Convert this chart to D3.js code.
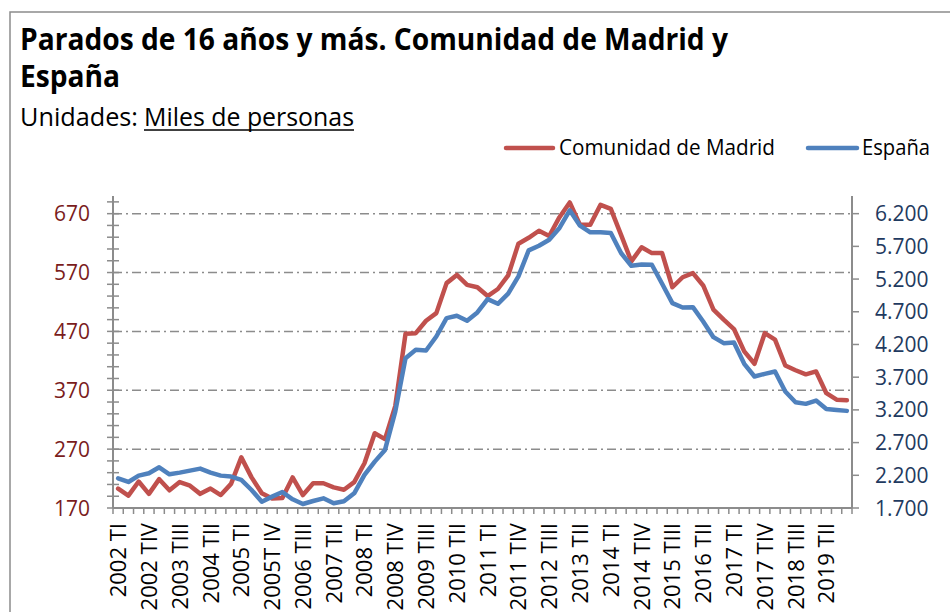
<!DOCTYPE html>
<html>
<head>
<meta charset="utf-8">
<script src="https://cdn.jsdelivr.net/npm/d3@7"></script>
<style>
  body { margin: 0; background: #fff; }
  svg { display: block; font-family: "Open Sans", sans-serif; }
</style>
</head>
<body>
<div id="chart"></div>
<script>
var width = 950;
var height = 612;

// trimestres 2002 TI .. 2019 TIV
const categories = [
    '2002 TI', '2002 TII', '2002 TIII', '2002 TIV',
    '2003 TI', '2003 TII', '2003 TIII', '2003 TIV',
    '2004 TI', '2004 TII', '2004 TIII', '2004 TIV',
    '2005 TI', '2005 TII', '2005 TIII', '2005T IV',
    '2006 TI', '2006 TII', '2006 TIII', '2006 TIV',
    '2007 TI', '2007 TII', '2007 TIII', '2007 TIV',
    '2008 TI', '2008 TII', '2008 TIII', '2008 TIV',
    '2009 TI', '2009 TII', '2009 TIII', '2009 TIV',
    '2010 TI', '2010 TII', '2010 TIII', '2010 TIV',
    '2011 TI', '2011 TII', '2011 TIII', '2011 TIV',
    '2012 TI', '2012 TII', '2012 TIII', '2012 TIV',
    '2013 TI', '2013 TII', '2013 TIII', '2013 TIV',
    '2014 TI', '2014 TII', '2014 TIII', '2014 TIV',
    '2015 TI', '2015 TII', '2015 TIII', '2015 TIV',
    '2016 TI', '2016 TII', '2016 TIII', '2016 TIV',
    '2017 TI', '2017 TII', '2017 TIII', '2017 TIV',
    '2018 TI', '2018 TII', '2018 TIII', '2018 TIV',
    '2019 TI', '2019 TII', '2019 TIII', '2019 TIV'
];

// Comunidad de Madrid (eje izquierdo, miles)
const madrid = [
    203, 191, 215, 194, 219, 200, 214, 208, 194, 203, 192, 211,
    256, 222, 195, 186, 187, 222, 192, 212, 212, 205, 201, 214,
    246, 297, 287, 343, 466, 467, 488, 501, 552, 566, 549, 545,
    530, 542, 565, 619, 629, 641, 632, 664, 689, 651, 651, 685,
    678, 634, 589, 613, 603, 603, 545, 562, 569, 548, 507, 490,
    474, 436, 415, 467, 456, 412, 404, 397, 402, 365, 354, 353
];

// España (eje derecho, miles)
const espana = [
    2154, 2098, 2195, 2231, 2322, 2215, 2241, 2271, 2302, 2241, 2195, 2180,
    2129, 1975, 1797, 1874, 1945, 1833, 1761, 1807, 1848, 1772, 1802, 1925,
    2205, 2409, 2588, 3174, 3991, 4118, 4108, 4322, 4603, 4639, 4562, 4690,
    4894, 4822, 4976, 5241, 5639, 5710, 5802, 5981, 6251, 6016, 5914, 5914,
    5904, 5598, 5404, 5424, 5419, 5129, 4833, 4766, 4771, 4552, 4312, 4220,
    4231, 3904, 3710, 3751, 3787, 3481, 3317, 3292, 3343, 3215, 3200, 3185
];

const leftTicks = [170, 270, 370, 470, 570, 670];
const rightTicks = [1700, 2200, 2700, 3200, 3700, 4200, 4700, 5200, 5700, 6200];
const seriesNames = ['Comunidad de Madrid', 'España'];

const red = '#C0504D';
const blue = '#4F81BD';
const grey = '#8C8C8C';

const plot = { left: 113, right: 852, top: 196, bottom: 508 };

const svg = d3.select('#chart')
    .append('svg')
    .attr('width', width)
    .attr('height', height);

// marco exterior
svg.append('rect')
    .attr('x', 10).attr('y', 12)
    .attr('width', 960).attr('height', 640)
    .attr('fill', 'none')
    .attr('stroke', grey)
    .attr('stroke-width', 1.5);

// ajusta el ancho del texto al de la referencia
function fit(sel, w) {
    sel.attr('textLength', w).attr('lengthAdjust', 'spacingAndGlyphs');
}

const t1 = svg.append('text')
    .attr('x', 20).attr('y', 50)
    .attr('font-size', 31).attr('font-weight', 'bold')
    .text('Parados de 16 años y más. Comunidad de Madrid y');
const k = 708 / t1.node().getComputedTextLength();
fit(t1, 708);
const t2 = svg.append('text')
    .attr('x', 20).attr('y', 87)
    .attr('font-size', 31).attr('font-weight', 'bold')
    .text('España');
fit(t2, t2.node().getComputedTextLength() * k);

const s1 = svg.append('text')
    .attr('x', 20).attr('y', 126)
    .attr('font-size', 25)
    .text('Unidades:');
fit(s1, 118);
const s2 = svg.append('text')
    .attr('x', 144).attr('y', 126)
    .attr('font-size', 25)
    .text('Miles de personas');
fit(s2, 210);
svg.append('line')
    .attr('x1', 144).attr('x2', 354)
    .attr('y1', 130).attr('y2', 130)
    .attr('stroke', '#000').attr('stroke-width', 1.5);

// escalas
const x = d3.scaleBand()
    .domain(categories)
    .range([plot.left, plot.right]);
const cx = d => x(d) + x.bandwidth() / 2;

const yL = d3.scaleLinear().domain([170, 700]).range([plot.bottom, plot.top]);
const yR = d3.scaleLinear().domain([1700, 6470]).range([plot.bottom, plot.top]);

// lineas de cuadricula
svg.append('g')
    .selectAll('line')
    .data(leftTicks.slice(1))
    .enter()
    .append('line')
    .attr('x1', plot.left).attr('x2', plot.right)
    .attr('y1', d => yL(d)).attr('y2', d => yL(d))
    .attr('stroke', grey)
    .attr('stroke-width', 1.5)
    .attr('stroke-dasharray', '9,4,2,4');

// eje izquierdo
const gL = svg.append('g');
gL.append('line')
    .attr('x1', plot.left).attr('x2', plot.left)
    .attr('y1', plot.top).attr('y2', plot.bottom)
    .attr('stroke', grey).attr('stroke-width', 2);
gL.selectAll('.minor')
    .data(d3.range(170, 701, 20))
    .enter()
    .append('line')
    .attr('x1', plot.left - 6).attr('x2', plot.left + 6)
    .attr('y1', d => yL(d)).attr('y2', d => yL(d))
    .attr('stroke', grey).attr('stroke-width', 1.5);
gL.selectAll('text')
    .data(leftTicks)
    .enter()
    .append('text')
    .attr('x', 90)
    .attr('y', d => yL(d))
    .attr('dy', '0.36em')
    .attr('text-anchor', 'end')
    .attr('font-size', 21)
    .attr('fill', '#7A1C1C')
    .text(d => d);

// eje derecho
const fmt = d3.formatLocale({ decimal: ',', thousands: '.', grouping: [3], currency: ['', ' €'] }).format(',');
const gR = svg.append('g');
gR.append('line')
    .attr('x1', plot.right).attr('x2', plot.right)
    .attr('y1', plot.top).attr('y2', plot.bottom)
    .attr('stroke', grey).attr('stroke-width', 2);
gR.selectAll('.tick')
    .data(rightTicks)
    .enter()
    .append('line')
    .attr('x1', plot.right).attr('x2', plot.right + 7)
    .attr('y1', d => yR(d)).attr('y2', d => yR(d))
    .attr('stroke', grey).attr('stroke-width', 1.5);
gR.selectAll('text')
    .data(rightTicks)
    .enter()
    .append('text')
    .attr('x', 875)
    .attr('y', d => yR(d))
    .attr('dy', '0.36em')
    .attr('font-size', 21)
    .attr('fill', '#1F3A60')
    .text(d => fmt(d));

// eje horizontal
const gX = svg.append('g');
gX.append('line')
    .attr('x1', plot.left).attr('x2', plot.right)
    .attr('y1', plot.bottom).attr('y2', plot.bottom)
    .attr('stroke', grey).attr('stroke-width', 2);
gX.selectAll('.tick')
    .data(categories.map(c => x(c)).concat([plot.right]))
    .enter()
    .append('line')
    .attr('x1', d => d).attr('x2', d => d)
    .attr('y1', plot.bottom).attr('y2', plot.bottom + 6)
    .attr('stroke', grey).attr('stroke-width', 1.5);
gX.selectAll('text')
    .data(categories.filter((c, i) => i % 3 === 0))
    .enter()
    .append('text')
    .attr('transform', d => 'translate(' + (cx(d) + 8) + ',' + (plot.bottom + 15) + ') rotate(-90)')
    .attr('text-anchor', 'end')
    .attr('font-size', 22)
    .attr('fill', '#000')
    .text(d => d);

// series
const lineL = d3.line()
    .x((d, i) => cx(categories[i]))
    .y(d => yL(d));
const lineR = d3.line()
    .x((d, i) => cx(categories[i]))
    .y(d => yR(d));

svg.append('path')
    .datum(madrid)
    .attr('d', lineL)
    .attr('fill', 'none')
    .attr('stroke', red)
    .attr('stroke-width', 4.5)
    .attr('stroke-linejoin', 'round')
    .attr('stroke-linecap', 'round');

svg.append('path')
    .datum(espana)
    .attr('d', lineR)
    .attr('fill', 'none')
    .attr('stroke', blue)
    .attr('stroke-width', 4.5)
    .attr('stroke-linejoin', 'round')
    .attr('stroke-linecap', 'round');

// leyenda
const legend = [
    { name: seriesNames[0], color: red, x1: 506, x2: 553, tx: 559, w: 216 },
    { name: seriesNames[1], color: blue, x1: 808, x2: 857, tx: 862, w: 68 }
];
const lg = svg.append('g')
    .selectAll('g')
    .data(legend)
    .enter()
    .append('g');
lg.append('line')
    .attr('x1', d => d.x1).attr('x2', d => d.x2)
    .attr('y1', 148).attr('y2', 148)
    .attr('stroke', d => d.color)
    .attr('stroke-width', 4.5)
    .attr('stroke-linecap', 'round');
lg.append('text')
    .attr('x', d => d.tx)
    .attr('y', 155)
    .attr('font-size', 21)
    .attr('textLength', d => d.w)
    .attr('lengthAdjust', 'spacingAndGlyphs')
    .text(d => d.name);
</script>
</body>
</html>
